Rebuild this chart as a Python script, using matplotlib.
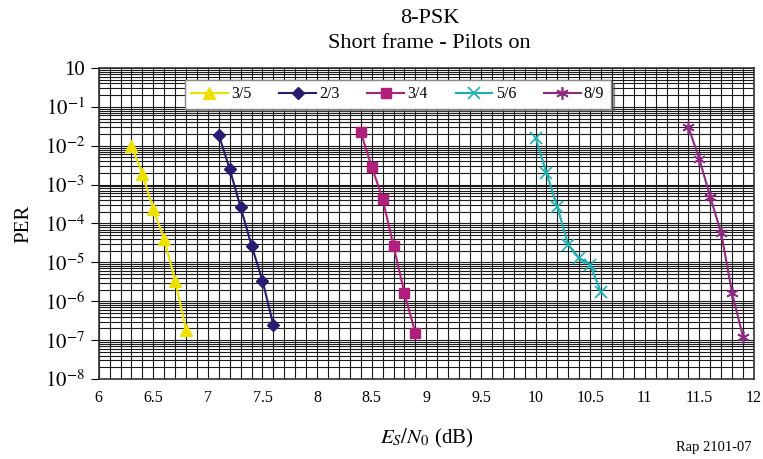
import math
import matplotlib
matplotlib.use("Agg")
import matplotlib.pyplot as plt
from matplotlib.ticker import FixedLocator, MultipleLocator, FuncFormatter, LogLocator, NullFormatter

plt.rcParams['font.family'] = ['Liberation Serif', 'DejaVu Serif']
plt.rcParams['mathtext.fontset'] = 'stix'

# data
x_35 = [6.3, 6.4, 6.5, 6.6, 6.7, 6.8]
per_35 = [1.0e-2, 1.9e-3, 2.3e-4, 4.0e-5, 3.4e-6, 1.8e-7]

x_23 = [7.1, 7.2, 7.3, 7.4, 7.5, 7.6]
per_23 = [1.9e-2, 2.5e-3, 2.6e-4, 2.7e-5, 3.4e-6, 2.4e-7]

x_34 = [8.4, 8.5, 8.6, 8.7, 8.8, 8.9]
per_34 = [2.2e-2, 2.9e-3, 4.3e-4, 2.6e-5, 1.6e-6, 1.5e-7]

x_56 = [10.0, 10.1, 10.2, 10.3, 10.4, 10.5, 10.6]
per_56 = [1.6e-2, 2.0e-3, 2.6e-4, 2.8e-5, 1.3e-5, 8.7e-6, 1.7e-6]

x_89 = [11.4, 11.5, 11.6, 11.7, 11.8, 11.9]
per_89 = [3.0e-2, 4.5e-3, 4.8e-4, 5.6e-5, 1.6e-6, 1.2e-7]

x_ticks = [6, 6.5, 7, 7.5, 8, 8.5, 9, 9.5, 10, 10.5, 11, 11.5, 12]
x_ticklabels = ['6', '6.5', '7', '7.5', '8', '8.5', '9', '9.5', '10', '10.5', '11', '11.5', '12']

fig = plt.figure(figsize=(7.63, 4.59), dpi=100)
ax = fig.add_axes([0.1293, 0.1743, 0.8589, 0.6776])

ax.plot(x_35, per_35, color='#EEE000', marker='^', ms=8, lw=1.5, label='3/5')
ax.plot(x_23, per_23, color='#2A1A70', marker='D', ms=6, lw=1.5, label='2/3')
ax.plot(x_34, per_34, color='#AE207C', marker='s', ms=7, lw=1.5, label='3/4')
ax.plot(x_56, per_56, color='#1AAFB0', marker='x', ms=8, mew=1.2, lw=1.5, label='5/6')
ax.plot(x_89, per_89, color='#8E2A80', marker=(6, 2, 0), ms=9, mew=1.2, lw=1.5, label='8/9')

ax.set_yscale('log')
ax.set_xlim(6, 12)
ax.set_ylim(1e-8, 1)

ax.xaxis.set_major_locator(FixedLocator(x_ticks))
ax.set_xticklabels(x_ticklabels)
ax.xaxis.set_minor_locator(MultipleLocator(0.1))
ax.yaxis.set_major_locator(LogLocator(base=10, numticks=20))
ax.yaxis.set_minor_locator(LogLocator(base=10, subs=range(2, 10), numticks=20))
ax.yaxis.set_minor_formatter(NullFormatter())


def fmt(v, pos):
    e = int(round(math.log10(v)))
    if e == 0:
        return '10'
    return r'$10^{%d}$' % e


ax.yaxis.set_major_formatter(FuncFormatter(fmt))
ax.tick_params(axis='x', which='both', length=0, labelsize=11.5, pad=8)
ax.tick_params(axis='y', which='major', length=6, labelsize=15, pad=4)
ax.tick_params(axis='y', which='minor', length=0)

ax.grid(True, which='both', color='#1a1a1a', lw=0.8)
ax.set_axisbelow(True)
for s in ax.spines.values():
    s.set_color('#333333')
    s.set_linewidth(1.2)

leg = ax.legend(loc='upper left', bbox_to_anchor=(0.131, 0.962), ncol=5,
                fontsize=11.5, frameon=True, fancybox=False, shadow=True,
                handlelength=2.3, columnspacing=1.75, borderpad=0.4,
                handletextpad=0.2, borderaxespad=0)
leg.get_frame().set_edgecolor('#888888')
leg.get_frame().set_linewidth(1.0)

ax.set_ylabel('PER', fontsize=15, labelpad=8)
ax.set_xlabel(r'$E_S/N_0$ (dB)', fontsize=15, labelpad=15)

fig.text(0.563, 0.960, '8-PSK', ha='center', va='center', fontsize=16)
fig.text(0.563, 0.905, 'Short frame - Pilots on', ha='center', va='center', fontsize=16)
fig.text(0.985, 0.025, 'Rap 2101-07', ha='right', va='center', fontsize=10.5)

fig.savefig('out.png', dpi=100)
